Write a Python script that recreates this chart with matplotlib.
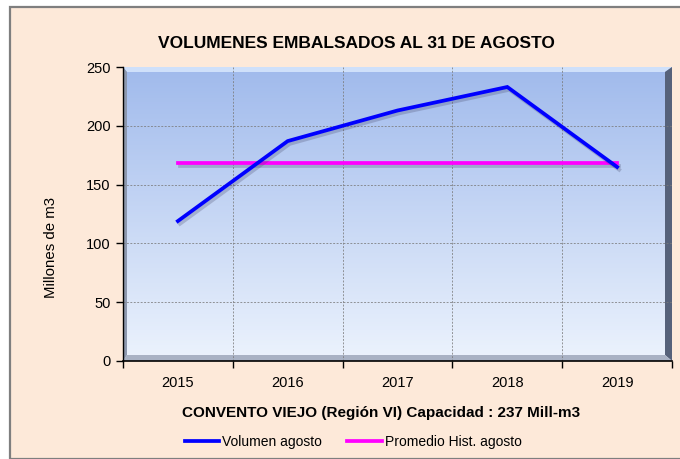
import matplotlib
matplotlib.use("Agg")
import matplotlib.pyplot as plt
import matplotlib.patheffects as pe
from matplotlib.patches import Rectangle, Polygon
from matplotlib.lines import Line2D
import numpy as np

plt.rcParams['font.family'] = ['Liberation Sans', 'DejaVu Sans']

years = ['2015', '2016', '2017', '2018', '2019']
volumen = [119, 187, 213, 233, 165]
promedio = [168, 168, 168, 168, 168]
yticks = [0, 50, 100, 150, 200, 250]
title = 'VOLUMENES EMBALSADOS AL 31 DE AGOSTO'
xlabel = 'CONVENTO VIEJO (Región VI) Capacidad : 237 Mill-m3'
ylabel = 'Millones de m3'
series_names = ['Volumen agosto', 'Promedio Hist. agosto']

W, H = 680, 459
fig = plt.figure(figsize=(6.8, 4.59), dpi=100, facecolor='white')

# outer frame
fig.patches.append(Rectangle((10 / W, 0), 1.0, 1 - 7 / H, transform=fig.transFigure,
                             facecolor='#FDE9D9', edgecolor='#7f7f7f', lw=1.6, zorder=-10))

L, R, T, B = 123, 672, 67, 361
ax = fig.add_axes([L / W, 1 - B / H, (R - L) / W, (B - T) / H])
ax.set_zorder(2)
ax.set_facecolor('none')
aw, ah = R - L, B - T

# gradient background
grad = np.linspace(0, 1, 256).reshape(-1, 1)
top_c = np.array([160, 186, 236]) / 255
bot_c = np.array([236, 243, 253]) / 255
img = top_c[None, None, :] * (1 - grad[:, :, None]) + bot_c[None, None, :] * grad[:, :, None]
ax.imshow(img, extent=[0, 1, 0, 1], transform=ax.transAxes, aspect='auto', zorder=0)

# bevel
bt, br, bb, bl = 5 / ah, 7 / aw, 6 / ah, 4 / aw
ax.add_patch(Polygon([(0, 1), (1, 1), (1 - br, 1 - bt), (bl, 1 - bt)], closed=True,
                     transform=ax.transAxes, facecolor='#cfe0fa', edgecolor='none', zorder=1))
ax.add_patch(Polygon([(1, 1), (1, 0), (1 - br, bb), (1 - br, 1 - bt)], closed=True,
                     transform=ax.transAxes, facecolor='#56627a', edgecolor='none', zorder=1))
ax.add_patch(Polygon([(0, 0), (1, 0), (1 - br, bb), (bl, bb)], closed=True,
                     transform=ax.transAxes, facecolor='#a9b2c4', edgecolor='none', zorder=1))
ax.add_patch(Polygon([(0, 0), (0, 1), (bl, 1 - bt), (bl, bb)], closed=True,
                     transform=ax.transAxes, facecolor='#8d98ae', edgecolor='none', zorder=1))

x = np.arange(len(years))
ax.set_xlim(-0.5, len(years) - 0.5)
ax.set_ylim(yticks[0], yticks[-1])

# grid
for yv in yticks[1:-1]:
    ax.axhline(yv, color='#7a7a7a', lw=0.55, ls=(0, (2.5, 2)), zorder=2)
for xv in np.arange(0.5, len(years) - 0.5, 1):
    ax.axvline(xv, color='#7a7a7a', lw=0.55, ls=(0, (2.5, 2)), zorder=2)

shadow = [pe.SimpleLineShadow(offset=(1.5, -2), shadow_color='#404060', alpha=0.25), pe.Normal()]
ax.plot(x, volumen, color='#0000FF', lw=2.7, zorder=4, path_effects=shadow, solid_joinstyle='miter')
ax.plot(x, promedio, color='#FF00FF', lw=2.7, zorder=3, path_effects=shadow)

ax.set_yticks(yticks)
ax.set_yticklabels([str(v) for v in yticks], fontsize=10.5)
ax.set_xticks(x)
ax.set_xticklabels(years, fontsize=10.5)
ax.set_xticks(np.arange(-0.5, len(years), 1), minor=True)
ax.tick_params(axis='x', which='major', length=0, pad=11)
ax.tick_params(axis='x', which='minor', length=5, width=1, direction='out')
ax.tick_params(axis='y', length=5, width=1, direction='out', pad=4)
for s in ['top', 'right']:
    ax.spines[s].set_visible(False)
ax.spines['left'].set_linewidth(1.0)
ax.spines['bottom'].set_linewidth(1.2)
ax.spines['left'].set_zorder(5)
ax.spines['bottom'].set_zorder(5)

fig.text(356 / W, 1 - 43 / H, title, ha='center', va='center', fontsize=12.5, fontweight='bold')
fig.text(381 / W, 1 - 413 / H, xlabel, ha='center', va='center', fontsize=11, fontweight='bold')
fig.text(51 / W, 1 - 247 / H, ylabel, ha='center', va='center', rotation=90, fontsize=10.8)

handles = [Line2D([], [], color='#0000FF', lw=2.7), Line2D([], [], color='#FF00FF', lw=2.7)]
fig.legend(handles, series_names, loc='center', bbox_to_anchor=(353 / W, 1 - 442 / H), ncol=2,
           frameon=False, fontsize=10, handlelength=2.5, handletextpad=0.2, columnspacing=1.8)

fig.savefig('out.png', dpi=100, facecolor=fig.get_facecolor())
